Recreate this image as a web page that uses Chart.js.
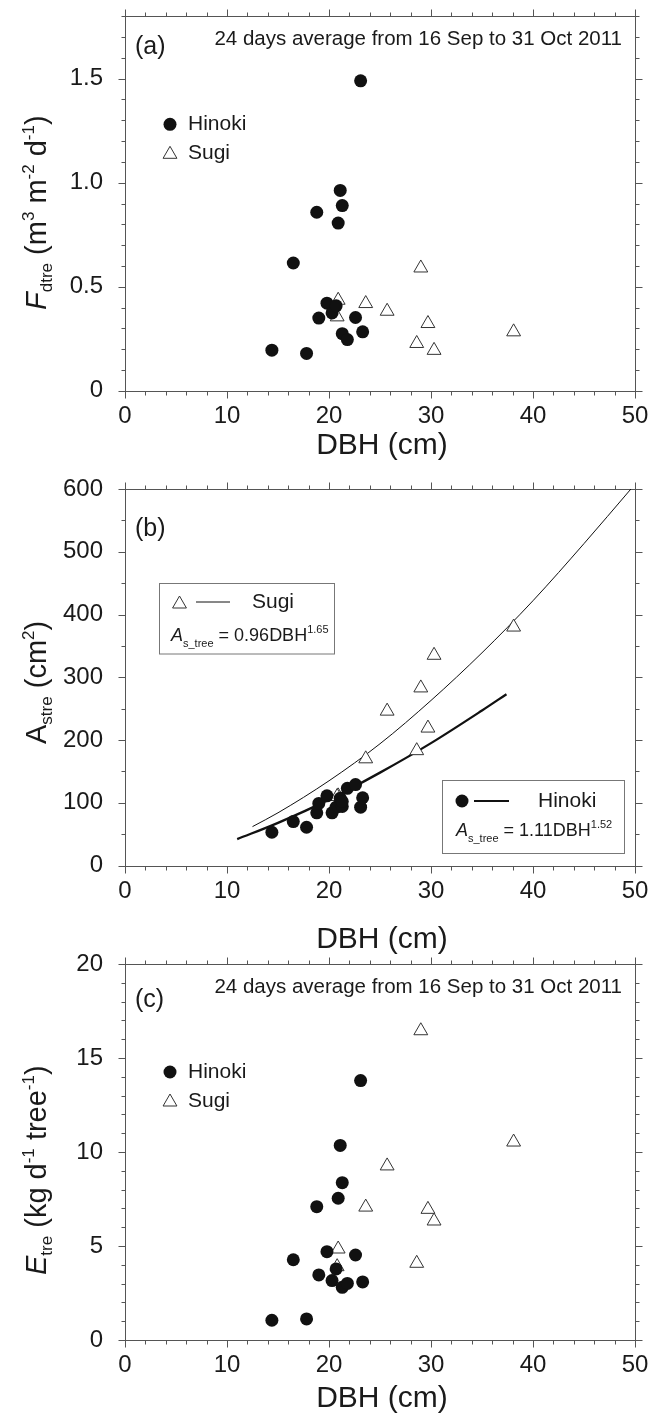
<!DOCTYPE html>
<html><head><meta charset="utf-8">
<script src="https://cdn.jsdelivr.net/npm/chart.js@4/dist/chart.umd.min.js"></script>
<style>
html,body{margin:0;padding:0;background:#fff}
body{width:660px;height:1413px;position:relative;overflow:hidden}
.p{position:absolute;left:0;width:660px}
canvas{display:block}
</style></head><body>
<div class="p" style="top:0px;height:470px"><canvas id="ca" width="660" height="470"></canvas></div>
<div class="p" style="top:470px;height:492px"><canvas id="cb" width="660" height="492"></canvas></div>
<div class="p" style="top:950px;height:463px"><canvas id="cc" width="660" height="463"></canvas></div>
<script>
// ---------------- data ----------------
const hinokiDBH = [14.4, 16.5, 17.8, 18.8, 19.0, 19.8, 20.3, 20.7, 20.9, 21.1, 21.3, 21.3, 21.8, 22.6, 23.1, 23.3];
const hinokiFd  = [0.195, 0.614, 0.179, 0.858, 0.349, 0.421, 0.374, 0.408, 0.806, 0.963, 0.890, 0.274, 0.246, 0.352, 1.49, 0.283];
const hinokiAs  = [53, 70, 61, 84, 99, 111, 84, 93, 94, 107, 94, 102, 123, 129, 93, 108];
const hinokiE   = [1.05, 4.27, 1.12, 7.09, 3.46, 4.70, 3.16, 3.78, 7.54, 10.35, 8.37, 2.80, 3.01, 4.52, 13.8, 3.09];

const sugiDBH = [20.9, 23.6, 25.7, 29.0, 29.7, 20.8, 28.6, 30.3, 38.1];
const sugiFd  = [0.435, 0.419, 0.382, 0.590, 0.323, 0.355, 0.227, 0.194, 0.283];
const sugiAs  = [111, 170, 246, 283, 219, 110, 183, 335, 380];
const sugiE   = [4.84, 7.07, 9.26, 16.45, 6.95, 3.90, 4.08, 6.33, 10.53];

// fitted curves
const sugiCurveX   = [12.5, 15, 20, 25, 30, 35, 40, 45, 49.6];
const sugiCurveY   = [62, 84, 135, 194, 263, 339, 422, 513, 600];
const hinokiCurveX = [11, 15, 20, 25, 30, 35, 37.4];
const hinokiCurveY = [42, 68, 105, 148, 195, 247, 273];

// axes
const xTickValues = [0, 10, 20, 30, 40, 50];
const xTickLabels = ['0', '10', '20', '30', '40', '50'];
const yTickValuesA = [0, 0.5, 1.0, 1.5];
const yTickLabelsA = ['0', '0.5', '1.0', '1.5'];
const yTickValuesB = [0, 100, 200, 300, 400, 500, 600];
const yTickLabelsB = ['0', '100', '200', '300', '400', '500', '600'];
const yTickValuesC = [0, 5, 10, 15, 20];
const yTickLabelsC = ['0', '5', '10', '15', '20'];

const noteText = '24 days average from 16 Sep to 31 Oct 2011';
const xTitle = 'DBH (cm)';

// ---------------- helpers ----------------
const FONT = '"Liberation Sans", Arial, Helvetica, sans-serif';
const INK = '#1a1a1a';
const FRAME = '#555';

function pts(xs, ys) { return xs.map((x, i) => ({ x: x, y: ys[i] })); }

function rich(ctx, x, y, segs, rot, base) {
  ctx.save();
  ctx.translate(x, y);
  if (rot) ctx.rotate(-Math.PI / 2);
  ctx.textAlign = 'left';
  ctx.textBaseline = 'alphabetic';
  ctx.fillStyle = INK;
  let cx = 0;
  for (const s of segs) {
    ctx.font = (s.it ? 'italic ' : '') + (s.s || base) + 'px ' + FONT;
    ctx.fillText(s.t, cx, s.dy || 0);
    cx += ctx.measureText(s.t).width;
  }
  ctx.restore();
  return cx;
}

function marker(ctx, style, x, y) {
  ctx.save();
  if (style === 'circle') {
    ctx.fillStyle = '#111';
    Chart.helpers.drawPoint(ctx, { pointStyle: 'circle', radius: 6.5, rotation: 0, borderWidth: 0 }, x, y);
  } else {
    ctx.fillStyle = '#fff'; ctx.strokeStyle = '#333'; ctx.lineWidth = 1;
    Chart.helpers.drawPoint(ctx, { pointStyle: 'triangle', radius: 8, rotation: 0, borderWidth: 1 }, x, y);
  }
  ctx.restore();
}

function hline(ctx, x1, x2, y, w) {
  ctx.save(); ctx.strokeStyle = '#111'; ctx.lineWidth = w;
  ctx.beginPath(); ctx.moveTo(x1, y); ctx.lineTo(x2, y); ctx.stroke(); ctx.restore();
}

function framePlugin(yMinor, yMajor) {
  return {
    id: 'frame',
    beforeDatasetsDraw(chart) {
      const { ctx, chartArea: a, scales } = chart;
      const L = Math.round(a.left) + 0.5, R = Math.round(a.right) + 0.5;
      const T = Math.round(a.top) + 0.5, B = Math.round(a.bottom) + 0.5;
      ctx.save();
      ctx.strokeStyle = FRAME; ctx.lineWidth = 1;
      ctx.strokeRect(L, T, R - L, B - T);
      ctx.beginPath();
      for (let v = scales.x.min; v <= scales.x.max + 1e-9; v += 2) {
        const len = (Math.abs(v % 10) < 1e-6) ? 7 : 4;
        const px = Math.round(scales.x.getPixelForValue(v)) + 0.5;
        ctx.moveTo(px, B); ctx.lineTo(px, B + len);
        ctx.moveTo(px, T); ctx.lineTo(px, T - len);
      }
      const n = Math.round((scales.y.max - scales.y.min) / yMinor);
      for (let k = 0; k <= n; k++) {
        const v = scales.y.min + k * yMinor;
        const r = v / yMajor;
        const len = (Math.abs(r - Math.round(r)) < 1e-6) ? 7 : 4;
        const py = Math.round(scales.y.getPixelForValue(v)) + 0.5;
        ctx.moveTo(L, py); ctx.lineTo(L - len, py);
        ctx.moveTo(R, py); ctx.lineTo(R + len, py);
      }
      ctx.stroke();
      ctx.restore();
    }
  };
}

function textPlugin(o) {
  return {
    id: 'texts',
    afterDraw(chart) {
      const { ctx, chartArea: a } = chart;
      ctx.save();
      ctx.fillStyle = INK;
      // panel label
      ctx.font = '25px ' + FONT; ctx.textAlign = 'left'; ctx.textBaseline = 'middle';
      ctx.fillText(o.label, 135, a.top + o.labelDy);
      // note
      if (o.note) {
        ctx.font = '20.5px ' + FONT; ctx.textAlign = 'right'; ctx.textBaseline = 'middle';
        ctx.fillText(noteText, 622, a.top + 23);
      }
      // x title
      ctx.font = '30px ' + FONT; ctx.textAlign = 'center'; ctx.textBaseline = 'alphabetic';
      ctx.fillText(xTitle, 382, a.bottom + o.xTitleDy);
      // y title
      rich(ctx, 46, o.yTitleStart, o.yTitle, true, 29);
      // legends
      if (o.legend === 'simple') {
        marker(ctx, 'circle', 170, a.top + 108);
        marker(ctx, 'triangle', 170, a.top + 138);
        ctx.fillStyle = INK; ctx.font = '21px ' + FONT; ctx.textAlign = 'left'; ctx.textBaseline = 'middle';
        ctx.fillText('Hinoki', 188, a.top + 108);
        ctx.fillText('Sugi', 188, a.top + 137);
      } else if (o.legend === 'boxes') {
        ctx.strokeStyle = '#777'; ctx.lineWidth = 1;
        // Sugi box
        ctx.strokeRect(159.5, Math.round(a.top + 93.5) + 0.5, 175, 70.5);
        marker(ctx, 'triangle', 179.5, a.top + 115);
        hline(ctx, 196, 230, a.top + 113, 1);
        ctx.fillStyle = INK; ctx.font = '21px ' + FONT; ctx.textAlign = 'left'; ctx.textBaseline = 'middle';
        ctx.fillText('Sugi', 252, a.top + 113);
        rich(ctx, 171, a.top + 152, [
          { t: 'A', it: 1 }, { t: 's_tree', s: 11, dy: 6 }, { t: ' = 0.96DBH' }, { t: '1.65', s: 11, dy: -8 }
        ], false, 18);
        // Hinoki box
        ctx.strokeStyle = '#777'; ctx.lineWidth = 1;
        ctx.strokeRect(442.5, Math.round(a.top + 291) + 0.5, 182, 73);
        marker(ctx, 'circle', 462, a.top + 312);
        hline(ctx, 474, 509, a.top + 312, 2.2);
        ctx.fillStyle = INK; ctx.font = '21px ' + FONT; ctx.textAlign = 'left'; ctx.textBaseline = 'middle';
        ctx.fillText('Hinoki', 538, a.top + 312);
        rich(ctx, 456, a.top + 347, [
          { t: 'A', it: 1 }, { t: 's_tree', s: 11, dy: 6 }, { t: ' = 1.11DBH' }, { t: '1.52', s: 11, dy: -8 }
        ], false, 18);
      }
      ctx.restore();
    }
  };
}

function makePanel(id, o) {
  const H = o.height;
  return new Chart(document.getElementById(id), {
    type: 'scatter',
    data: { datasets: o.datasets },
    options: {
      responsive: false,
      animation: false,
      events: [],
      layout: { padding: { top: o.areaTop, right: 25, left: 0, bottom: 0 } },
      plugins: { legend: { display: false }, tooltip: { enabled: false } },
      scales: {
        x: {
          type: 'linear', position: 'bottom', min: 0, max: 50,
          afterBuildTicks: s => { s.ticks = xTickValues.map(v => ({ value: v })); },
          afterFit: s => { s.height = H - o.areaBottom; s.paddingLeft = 0; s.paddingRight = 0; },
          grid: { display: false }, border: { display: false },
          ticks: {
            autoSkip: false, maxRotation: 0, padding: 3, color: INK,
            font: { family: FONT, size: 24 },
            callback: (v, i) => xTickLabels[i]
          }
        },
        y: {
          type: 'linear', position: 'left', min: o.yMin, max: o.yMax,
          afterBuildTicks: s => { s.ticks = o.yTicks.map(v => ({ value: v })); },
          afterFit: s => { s.width = 125; s.paddingTop = 0; s.paddingBottom = 0; },
          grid: { display: false }, border: { display: false },
          ticks: {
            autoSkip: false, padding: 14, color: INK,
            font: { family: FONT, size: 24 },
            callback: (v, i) => o.yLabels[i]
          }
        }
      }
    },
    plugins: [framePlugin(o.yMinor, o.yMajor), textPlugin(o)]
  });
}

const hinokiStyle = { pointStyle: 'circle', pointRadius: 6.5, backgroundColor: '#111', borderWidth: 0, showLine: false };
const sugiStyle = { pointStyle: 'triangle', pointRadius: 8, backgroundColor: '#fff', borderColor: '#333', borderWidth: 1, showLine: false };

// Panel (a)
makePanel('ca', {
  height: 470, areaTop: 16.3, areaBottom: 390.7,
  yMin: 0, yMax: 1.8, yTicks: yTickValuesA, yLabels: yTickLabelsA, yMinor: 0.1, yMajor: 0.5,
  label: '(a)', labelDy: 31, note: true, legend: 'simple', xTitleDy: 63,
  yTitleStart: 310,
  yTitle: [{ t: 'F', it: 1 }, { t: 'dtre', s: 17, dy: 6 }, { t: ' (m' }, { t: '3', s: 17, dy: -12 },
           { t: ' m' }, { t: '-2', s: 17, dy: -12 }, { t: ' d' }, { t: '-1', s: 17, dy: -12 }, { t: ')' }],
  datasets: [
    Object.assign({ label: 'Hinoki', data: pts(hinokiDBH, hinokiFd) }, hinokiStyle),
    Object.assign({ label: 'Sugi', data: pts(sugiDBH, sugiFd) }, sugiStyle)
  ]
});

// Panel (b)
makePanel('cb', {
  height: 492, areaTop: 19, areaBottom: 395.5,
  yMin: 0, yMax: 600, yTicks: yTickValuesB, yLabels: yTickLabelsB, yMinor: 50, yMajor: 100,
  label: '(b)', labelDy: 40, note: false, legend: 'boxes', xTitleDy: 82,
  yTitleStart: 744 - 470,
  yTitle: [{ t: 'A' }, { t: 'stre', s: 17, dy: 6 }, { t: ' (cm' }, { t: '2', s: 17, dy: -12 }, { t: ')' }],
  datasets: [
    Object.assign({ label: 'Hinoki', data: pts(hinokiDBH, hinokiAs) }, hinokiStyle),
    Object.assign({ label: 'Sugi', data: pts(sugiDBH, sugiAs) }, sugiStyle),
    { type: 'line', label: 'Sugi fit', data: pts(sugiCurveX, sugiCurveY), borderColor: '#111', borderWidth: 1,
      pointRadius: 0, fill: false, cubicInterpolationMode: 'monotone', showLine: true },
    { type: 'line', label: 'Hinoki fit', data: pts(hinokiCurveX, hinokiCurveY), borderColor: '#111', borderWidth: 2.3,
      pointRadius: 0, fill: false, cubicInterpolationMode: 'monotone', showLine: true }
  ]
});

// Panel (c)
makePanel('cc', {
  height: 463, areaTop: 14, areaBottom: 390,
  yMin: 0, yMax: 20, yTicks: yTickValuesC, yLabels: yTickLabelsC, yMinor: 1, yMajor: 5,
  label: '(c)', labelDy: 36, note: true, legend: 'simple', xTitleDy: 67,
  yTitleStart: 1275 - 950,
  yTitle: [{ t: 'E', it: 1 }, { t: 'tre', s: 17, dy: 6 }, { t: ' (kg d' }, { t: '-1', s: 17, dy: -12 },
           { t: ' tree' }, { t: '-1', s: 17, dy: -12 }, { t: ')' }],
  datasets: [
    Object.assign({ label: 'Hinoki', data: pts(hinokiDBH, hinokiE) }, hinokiStyle),
    Object.assign({ label: 'Sugi', data: pts(sugiDBH, sugiE) }, sugiStyle)
  ]
});
</script>
</body></html>
